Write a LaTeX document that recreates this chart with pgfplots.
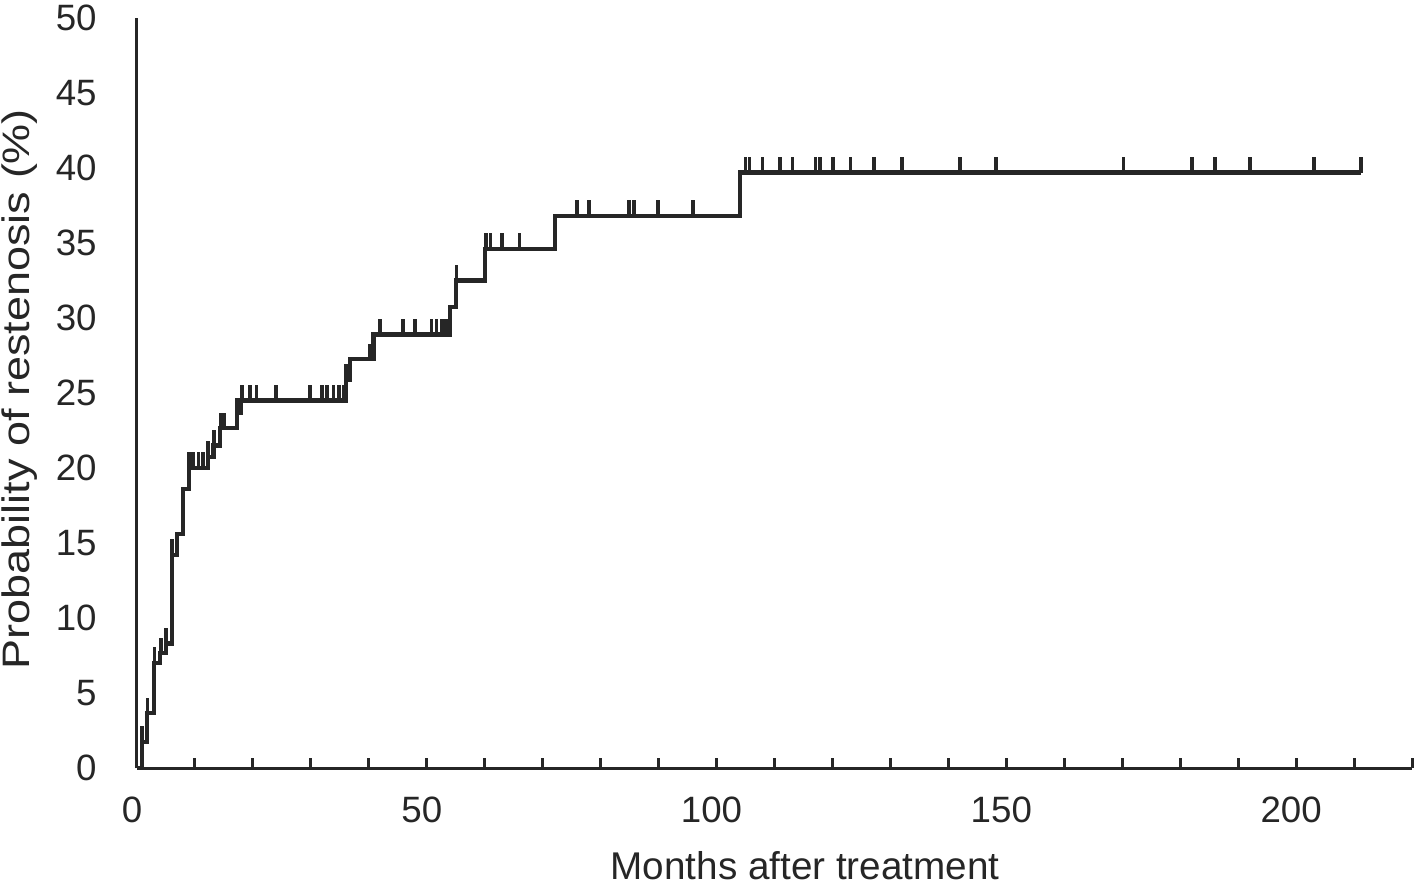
\documentclass[border=0pt]{standalone}
\usepackage{fontspec}
\setmainfont{Liberation Sans}
\usepackage{graphicx}
\usepackage{pgfplots}
\pgfplotsset{compat=1.18}
\definecolor{ink}{RGB}{38,38,38}
\pgfdeclareplotmark{cens}{\pgfpathmoveto{\pgfqpoint{0pt}{0pt}}\pgfpathlineto{\pgfqpoint{0pt}{4.7pt}}\pgfusepathqstroke}
\begin{document}
\begin{tikzpicture}
\begin{axis}[
  scale only axis, width=382.5pt, height=225pt,
  xmin=0, xmax=220, ymin=0, ymax=50,
  axis lines=left, axis line style={-, line width=0.9pt, ink},
  xtick={0,50,...,200}, minor xtick={10,20,...,220},
  ytick={0,5,...,50},
  tick align=inside,
  major tick length=3pt, minor tick length=3pt,
  xtick style={line width=0.9pt, ink},
  minor tick style={line width=0.9pt, ink},
  ytick style={draw=none},
  tick label style={font=\fontsize{11}{13}\selectfont, text=ink},
  yticklabel style={xshift=-8.6pt},
  xticklabel style={yshift=-5pt, xshift=-1.5pt},
  /pgf/number format/assume math mode=true,
  xlabel={Months after treatment},
  ylabel={\scalebox{1}[0.85]{Probability of restenosis (\%)}},
  xlabel style={at={(rel axis cs:0.524,-0.1493)}, anchor=base, inner sep=0pt, font=\fontsize{11.6}{14}\selectfont},
  ylabel style={at={(rel axis cs:-0.0918,0.5053)}, anchor=center, inner sep=0pt, font=\fontsize{13.5}{16}\selectfont},
  label style={text=ink},
  clip=false,
]
\addplot[const plot, line width=1.25pt, ink, line join=miter] coordinates {
(0,0) (0.8,1.75) (1.7,3.65) (3.0,7.0) (4.0,7.65) (5.0,8.3) (6.0,14.2) (6.9,15.6)
(8.0,18.6) (9.0,20.0) (12.2,20.75) (13.2,21.5) (14.3,22.65) (17.2,23.65) (18.0,24.5)
(36.1,25.9) (36.7,27.25) (40.8,28.9) (54.0,30.75) (55.1,32.5) (60.1,34.6) (72.1,36.8)
(104.0,39.7) (211.2,39.7)
};
\addplot[only marks, mark=cens, mark options={line width=1.1pt, ink}] coordinates {
(0.9,1.75) (1.8,3.65) (3.0,7.0) (4.1,7.65) (5.0,8.3) (6.0,14.2)
(9.0,20.0) (9.7,20.0) (10.6,20.0) (11.4,20.0)
(12.3,20.75) (13.3,21.5) (14.4,22.65) (15.0,22.65) (17.3,23.65)
(18.1,24.5) (19.5,24.5) (20.6,24.5) (24.0,24.5) (29.9,24.5) (31.9,24.5) (32.8,24.5) (33.9,24.5) (34.9,24.5) (35.7,24.5)
(36.1,25.9) (40.1,27.25)
(41.9,28.9) (45.9,28.9) (48.0,28.9) (50.8,28.9) (51.7,28.9) (52.6,28.9) (53.3,28.9)
(55.1,32.5)
(60.2,34.6) (61.0,34.6) (63.0,34.6) (66.0,34.6)
(75.9,36.8) (78.0,36.8) (84.9,36.8) (85.7,36.8) (89.9,36.8) (95.9,36.8)
(105.0,39.7) (105.7,39.7) (107.9,39.7) (111.0,39.7) (113.1,39.7) (117.1,39.7) (117.8,39.7) (120.1,39.7) (123.1,39.7) (127.2,39.7) (132.0,39.7) (142.0,39.7) (148.2,39.7) (170.2,39.7) (182.0,39.7) (186.0,39.7) (192.0,39.7) (203.1,39.7) (211.2,39.7)
};
\coordinate (bl) at (rel axis cs:-0.10745,-0.15333);
\coordinate (tr) at (rel axis cs:1.00314,1.024);
\end{axis}
\pgfresetboundingbox
\path (bl) rectangle (tr);
\end{tikzpicture}
\end{document}
